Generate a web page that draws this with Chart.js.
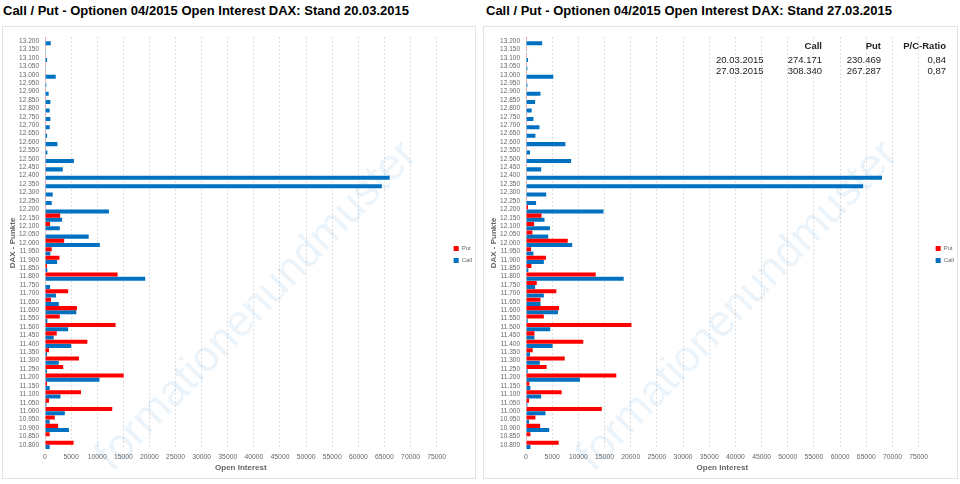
<!DOCTYPE html>
<html>
<head>
<meta charset="utf-8">
<script src="https://cdn.jsdelivr.net/npm/chart.js@4.4.1/dist/chart.umd.min.js"></script>
<style>
  html,body{margin:0;padding:0;background:#fff;width:960px;height:484px;overflow:hidden;font-family:"Liberation Sans",Arial,sans-serif;}
  .title{position:absolute;top:3px;font-weight:bold;font-size:13px;color:#000;white-space:nowrap;}
  .panel{position:absolute;top:26px;height:451px;border:1px solid #e4e4e4;}
  .panel .box{position:absolute;left:0;top:0;width:100%;height:100%;}
  .tbl{position:absolute;font-size:9.5px;color:#222;white-space:nowrap;}
  .tbl div{position:absolute;}
</style>
</head>
<body>
<div class="title" id="t1" style="left:3px"></div>
<div class="title" id="t2" style="left:486px"></div>
<div class="panel" style="left:2px;width:472px"><div class="box"><canvas id="c1"></canvas></div></div>
<div class="panel" style="left:483px;width:473px"><div class="box"><canvas id="c2"></canvas></div></div>
<div class="tbl" id="tbl"></div>
<script>
// ---------- DATA ----------
const titles = [
  "Call / Put - Optionen 04/2015 Open Interest DAX: Stand 20.03.2015",
  "Call / Put - Optionen 04/2015 Open Interest DAX: Stand 27.03.2015"
];
const strikes = ["13.200","13.150","13.100","13.050","13.000","12.950","12.900","12.850","12.800","12.750",
  "12.700","12.650","12.600","12.550","12.500","12.450","12.400","12.350","12.300","12.250",
  "12.200","12.150","12.100","12.050","12.000","11.950","11.900","11.850","11.800","11.750",
  "11.700","11.650","11.600","11.550","11.500","11.450","11.400","11.350","11.300","11.250",
  "11.200","11.150","11.100","11.050","11.000","10.950","10.900","10.850","10.800"];
// Stand 20.03.2015
const put1 = [150,150,150,150,150,150,150,150,150,150,
  150,150,150,150,150,150,150,150,150,150,
  150,2900,970,130,3670,1290,2770,390,13900,130,
  4440,1160,6120,2830,13520,2250,8110,770,6500,3480,
  15070,390,6890,770,12880,1870,2510,900,5470];
const call1 = [1100,150,400,150,2060,250,700,1030,900,1030,
  900,400,2380,450,5540,3410,66000,64500,1480,1290,
  12240,3280,2830,8370,10500,1030,2320,450,19190,970,
  2120,2640,5990,450,4440,1670,5020,390,2640,390,
  10430,900,2960,260,3800,900,4570,130,900];
// Stand 27.03.2015
const put2 = [150,150,150,150,150,150,150,150,150,150,
  150,150,150,150,150,150,150,150,150,150,
  390,2960,1540,1220,7980,970,3800,1030,13320,2060,
  5790,2770,6310,3410,20140,1610,10940,1290,7400,3930,
  17250,640,6820,580,14480,1800,2700,840,6240];
const call2 = [3090,130,390,260,5210,260,2770,1740,1090,1420,
  2570,1800,7530,770,8620,2900,68000,64400,3860,1930,
  14800,3540,4570,4250,8820,1420,3410,450,18660,1740,
  3410,2770,6110,320,4630,1610,5080,770,2640,320,
  10300,840,2900,260,3730,580,4440,60,840];
const xMax = 75000;
const xStep = 5000;
const seriesNames = ["Put","Call"];
const tableHeader = ["", "Call", "Put", "P/C-Ratio"];
const tableRows = [
  ["20.03.2015","274.171","230.469","0,84"],
  ["27.03.2015","308.340","267.287","0,87"]
];
const watermark = "formationenundmuster";

// ---------- RENDER ----------
document.getElementById('t1').textContent = titles[0];
document.getElementById('t2').textContent = titles[1];

const FONT = "'Liberation Sans', Arial, sans-serif";
const gray = '#666';

const watermarkPlugin = {
  id: 'wm',
  beforeDatasetsDraw(chart) {
    const ctx = chart.ctx;
    ctx.save();
    ctx.translate(254, 279);
    ctx.rotate(-46 * Math.PI / 180);
    ctx.font = "44px " + FONT;
    ctx.fillStyle = 'rgba(0,112,192,0.08)';
    ctx.textAlign = 'center';
    ctx.textBaseline = 'middle';
    ctx.fillText(watermark, 0, 0);
    ctx.restore();
  }
};

const legendShift = {
  id: 'legendShift',
  afterLayout(chart) {
    const lg = chart.legend;
    if (!lg) return;
    lg.left += 11; lg.right += 11;
    lg.top -= 2; lg.bottom -= 2;
  }
};

function makeChart(id, put, call) {
  return new Chart(document.getElementById(id), {
    type: 'bar',
    data: {
      labels: strikes,
      datasets: [
        { label: seriesNames[0], data: put, backgroundColor: '#FF0000', borderWidth: 0 },
        { label: seriesNames[1], data: call, backgroundColor: '#0070C0', borderWidth: 0 }
      ]
    },
    options: {
      indexAxis: 'y',
      responsive: true,
      maintainAspectRatio: false,
      animation: false,
      categoryPercentage: 1.0,
      barPercentage: 0.96,
      layout: { padding: { top: 8, right: 4, left: 0, bottom: 0 } },
      plugins: {
        legend: {
          position: 'right',
          align: 'center',
          labels: { boxWidth: 5, boxHeight: 5, padding: 6, font: { size: 6, family: FONT }, color: gray }
        },
        tooltip: { enabled: false }
      },
      scales: {
        x: {
          min: 0, max: xMax,
          ticks: { stepSize: xStep, font: { size: 6.8, family: FONT }, color: gray, padding: 4, maxRotation: 0, autoSkip: false,
                   callback: (v) => String(v) },
          grid: { color: '#dcdcdc', drawTicks: false, tickLength: 0 },
          border: { display: false, dash: [2, 2] },
          title: { display: true, text: 'Open Interest', font: { size: 8, weight: 'bold', family: FONT }, color: gray, padding: { top: 2, bottom: 5 } },
          afterFit(s) { s.height = 29; }
        },
        y: {
          ticks: { font: { size: 6.5, family: FONT }, color: gray, padding: 6, autoSkip: false },
          grid: { display: false, drawTicks: false },
          border: { display: false },
          title: { display: true, text: 'DAX - Punkte', font: { size: 8, weight: 'bold', family: FONT }, color: gray, padding: { top: 5, bottom: 0 } },
          afterFit(s) { s.width = 42; }
        }
      }
    },
    plugins: [watermarkPlugin, legendShift]
  });
}

makeChart('c1', put1, call1);
makeChart('c2', put2, call2);

// table
const tbl = document.getElementById('tbl');
const colRight = [null, 822, 881, 946];
const rowY = [40, 54, 65];
function addCell(text, x, y, right, bold) {
  const d = document.createElement('div');
  d.textContent = text;
  d.style.top = y + 'px';
  if (right) { d.style.right = (960 - x) + 'px'; } else { d.style.left = x + 'px'; }
  if (bold) d.style.fontWeight = 'bold';
  tbl.appendChild(d);
}
tbl.style.left = '0px'; tbl.style.top = '0px'; tbl.style.width = '960px'; tbl.style.height = '484px';
for (let c = 1; c < tableHeader.length; c++) addCell(tableHeader[c], colRight[c], rowY[0], true, true);
tableRows.forEach((r, i) => {
  addCell(r[0], 716, rowY[i + 1], false, false);
  for (let c = 1; c < r.length; c++) addCell(r[c], colRight[c], rowY[i + 1], true, false);
});
</script>
</body>
</html>
